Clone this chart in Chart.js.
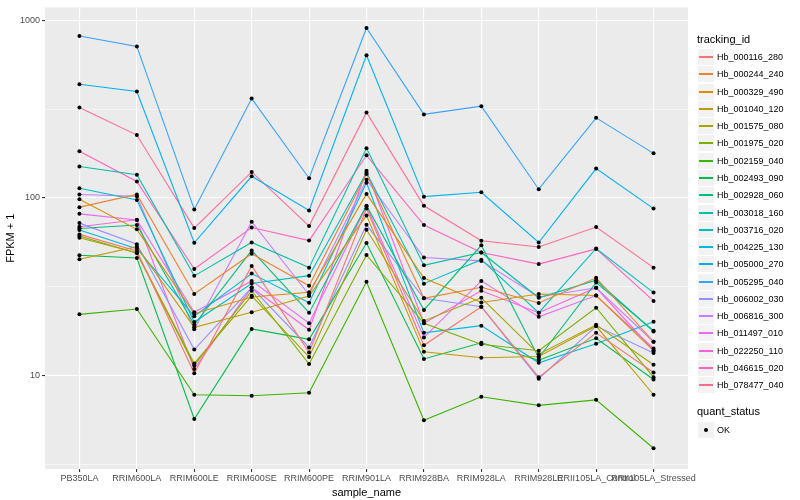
<!DOCTYPE html>
<html>
<head>
<meta charset="utf-8">
<script src="https://cdn.jsdelivr.net/npm/chart.js@4.4.1/dist/chart.umd.min.js"></script>
<style>
  body { margin: 0; background: #fff; font-family: "Liberation Sans", Arial, sans-serif; }
  #wrap { position: relative; width: 800px; height: 500px; }
  #chart { position: absolute; left: 0; top: 0; }
  .lg { position: absolute; white-space: nowrap; color: #000; }
  .lg-title { font-size: 11px; }
  .lg-text { font-size: 9px; line-height: 16px; }
  .key { position: absolute; width: 16px; height: 16px; background: #f2f2f2; }
  .key .ln { position: absolute; left: 1px; width: 14px; top: 7px; height: 2px; }
  .key .pt { position: absolute; left: 6px; top: 6px; width: 4px; height: 4px; border-radius: 50%; background: #000; }
</style>
</head>
<body>
<div id="wrap">
  <canvas id="chart" width="800" height="500"></canvas>
  <div id="legend"></div>
</div>
<script>
// x categories
const samples = ["PB350LA", "RRIM600LA", "RRIM600LE", "RRIM600SE", "RRIM600PE", "RRIM901LA",
  "RRIM928BA", "RRIM928LA", "RRIM928LE", "RRII105LA_Control", "RRII105LA_Stressed"];

const trackingIds = ["Hb_000116_280", "Hb_000244_240", "Hb_000329_490", "Hb_001040_120", "Hb_001575_080",
  "Hb_001975_020", "Hb_002159_040", "Hb_002493_090", "Hb_002928_060", "Hb_003018_160", "Hb_003716_020",
  "Hb_004225_130", "Hb_005000_270", "Hb_005295_040", "Hb_006002_030", "Hb_006816_300", "Hb_011497_010",
  "Hb_022250_110", "Hb_046615_020", "Hb_078477_040"];

// FPKM + 1, one array per transcript
const hb_000116_280 = [62.3, 50.2, 10.3, 41.4, 13.5, 87.2, 14.8, 24.4, 9.8, 17.4, 10.4];
const hb_000244_240 = [88.7, 104.5, 28.8, 48.5, 32.0, 136.3, 27.2, 31.4, 25.6, 35.5, 15.5];
const hb_000329_490 = [98.3, 66.5, 22.3, 27.7, 29.4, 105.3, 35.4, 25.8, 28.8, 28.2, 13.8];
const hb_001040_120 = [45.1, 53.1, 18.7, 22.7, 28.0, 79.7, 13.6, 12.6, 12.8, 19.0, 7.8];
const hb_001575_080 = [59.7, 49.2, 11.7, 28.1, 12.7, 66.1, 20.3, 27.4, 13.2, 19.3, 11.5];
const hb_001975_020 = [61.0, 48.8, 11.4, 30.0, 11.6, 47.7, 19.7, 15.0, 13.8, 24.1, 9.8];
const hb_002159_040 = [22.1, 23.7, 7.8, 7.7, 8.0, 33.7, 5.6, 7.6, 6.8, 7.3, 3.9];
const hb_002493_090 = [47.5, 45.9, 5.7, 18.3, 16.0, 55.7, 12.4, 15.3, 12.2, 16.2, 9.5];
const hb_002928_060 = [67.3, 70.3, 19.3, 50.6, 22.6, 90.4, 23.4, 54.1, 12.6, 33.4, 17.9];
const hb_003018_160 = [150.0, 134.9, 36.4, 56.1, 40.5, 190.0, 41.7, 49.3, 27.4, 34.4, 17.7];
const hb_003716_020 = [113.4, 97.4, 20.0, 33.0, 36.5, 138.5, 32.9, 44.9, 22.6, 51.9, 29.3];
const hb_004225_130 = [65.9, 51.8, 21.6, 37.5, 25.7, 121.7, 17.4, 19.1, 11.8, 15.1, 20.1];
const hb_005000_270 = [436, 397, 55.9, 132.3, 85.0, 634, 101.6, 107.6, 56.1, 146.2, 87.0];
const hb_005295_040 = [814, 712, 86.1, 362, 129.0, 903, 295, 328, 111.9, 282, 178];
const hb_006002_030 = [72.1, 54.8, 14.0, 31.3, 14.4, 70.5, 27.2, 24.4, 9.6, 19.0, 13.4];
const hb_006816_300 = [104.5, 102.2, 18.2, 73.5, 28.5, 126.5, 46.2, 44.2, 27.7, 31.2, 15.5];
const hb_011497_010 = [81.3, 75.0, 22.7, 34.1, 19.7, 89.8, 16.4, 34.1, 21.4, 28.2, 14.2];
const hb_022250_110 = [68.8, 75.3, 10.9, 31.3, 18.1, 142.1, 19.7, 30.0, 22.6, 31.2, 13.8];
const hb_046615_020 = [182.8, 123.6, 39.8, 68.1, 57.5, 173.6, 70.3, 49.3, 42.4, 51.6, 26.3];
const hb_078477_040 = [322.6, 225.6, 67.6, 139.9, 69.4, 302.4, 90.2, 57.4, 52.9, 68.5, 40.5];

const seriesValues = [hb_000116_280, hb_000244_240, hb_000329_490, hb_001040_120, hb_001575_080,
  hb_001975_020, hb_002159_040, hb_002493_090, hb_002928_060, hb_003018_160, hb_003716_020,
  hb_004225_130, hb_005000_270, hb_005295_040, hb_006002_030, hb_006816_300, hb_011497_010,
  hb_022250_110, hb_046615_020, hb_078477_040];

// y ticks (major labelled, minor only as grid)
const yTicks = [3.1623, 10, 31.623, 100, 316.23, 1000];

// ggplot default hue palette for 20 levels
const colors = ["#F8766D", "#EA8331", "#D89000", "#C09B00", "#A3A500", "#7CAE00", "#39B600", "#00BB4E",
  "#00BF7D", "#00C1A3", "#00BFC4", "#00BAE0", "#00B0F6", "#35A2FF", "#9590FF", "#C77CFF", "#E76BF3",
  "#FA62DB", "#FF62BC", "#FF6C91"];

const isMajor = (v) => Math.abs(Math.log10(v) - Math.round(Math.log10(v))) < 0.01;

const datasets = seriesValues.map((vals, k) => ({
  type: "line",
  label: trackingIds[k],
  data: vals.map((v, i) => ({ x: i, y: v })),
  borderColor: colors[k],
  borderWidth: 1.1,
  pointRadius: 0,
  tension: 0,
  order: 1,
}));

// all points in black on top of the lines
datasets.push({
  type: "scatter",
  label: "OK",
  data: seriesValues.flatMap((vals) => vals.map((v, i) => ({ x: i, y: v }))),
  backgroundColor: "#000",
  borderWidth: 0,
  pointRadius: 2,
  order: 0,
});

const panelBg = {
  id: "panelBg",
  beforeDraw(chart) {
    const { ctx, chartArea: a } = chart;
    ctx.save();
    ctx.fillStyle = "#ffffff";
    ctx.fillRect(0, 0, chart.width, chart.height);
    ctx.fillStyle = "#ebebeb";
    ctx.fillRect(a.left, a.top, a.right - a.left, a.bottom - a.top);
    ctx.restore();
  },
};

new Chart(document.getElementById("chart"), {
  type: "line",
  data: { datasets },
  plugins: [panelBg],
  options: {
    responsive: false,
    animation: false,
    layout: { padding: { left: 0, top: 5, right: 112, bottom: 0 } },
    plugins: { legend: { display: false }, tooltip: { enabled: false } },
    scales: {
      x: {
        type: "linear",
        min: -0.6,
        max: 10.6,
        afterBuildTicks: (scale) => { scale.ticks = samples.map((_, i) => ({ value: i })); },
        afterFit: (scale) => { scale.height = 31; },
        border: { display: false },
        grid: { color: "#ffffff", lineWidth: 1.1, tickColor: "#333333", tickLength: 3 },
        ticks: {
          autoSkip: false, maxRotation: 0, padding: 1,
          color: "#4d4d4d", font: { family: "Liberation Sans", size: 9 },
          callback: (v) => samples[v],
        },
        title: {
          display: true, text: "sample_name", color: "#000",
          font: { family: "Liberation Sans", size: 11 }, padding: { top: 6, bottom: 0 },
        },
      },
      y: {
        type: "logarithmic",
        min: 2.98,
        max: 1180,
        afterBuildTicks: (scale) => { scale.ticks = yTicks.map((v) => ({ value: v })); },
        afterFit: (scale) => { scale.width = 45; },
        border: { display: false },
        grid: {
          color: "#ffffff",
          lineWidth: (c) => (c.tick && isMajor(c.tick.value) ? 1.1 : 0.55),
          tickColor: (c) => (c.tick && isMajor(c.tick.value) ? "#333333" : "rgba(0,0,0,0)"),
          tickLength: 3,
        },
        ticks: {
          padding: 2, color: "#4d4d4d", font: { family: "Liberation Sans", size: 9 },
          callback: (v) => (isMajor(v) ? String(Math.round(v)) : ""),
        },
        title: {
          display: true, text: "FPKM + 1", color: "#000",
          font: { family: "Liberation Sans", size: 11 }, padding: { top: 4, bottom: 0 },
        },
      },
    },
  },
});

// legend on the right, built from the same arrays
const legend = document.getElementById("legend");
const addDiv = (cls, left, top, text) => {
  const d = document.createElement("div");
  d.className = cls;
  d.style.left = left + "px";
  d.style.top = Math.round(top) + "px";
  if (text) d.textContent = text;
  legend.appendChild(d);
  return d;
};

addDiv("lg lg-title", 697, 33, "tracking_id");
trackingIds.forEach((id, k) => {
  const top = Math.round(49 + k * 17.28);
  const key = addDiv("key", 698, top);
  const ln = document.createElement("div");
  ln.className = "ln";
  ln.style.backgroundColor = colors[k];
  key.appendChild(ln);
  addDiv("lg lg-text", 717, top, id);
});

addDiv("lg lg-title", 697, 405, "quant_status");
const okKey = addDiv("key", 698, 422);
const pt = document.createElement("div");
pt.className = "pt";
okKey.appendChild(pt);
addDiv("lg lg-text", 717, 422, "OK");
</script>
</body>
</html>
